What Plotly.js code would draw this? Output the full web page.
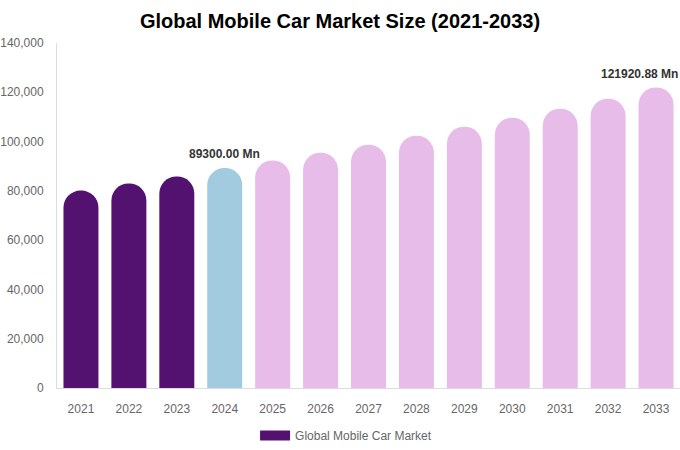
<!DOCTYPE html>
<html>
<head>
<meta charset="utf-8">
<script src="https://cdn.plot.ly/plotly-3.0.1.min.js"></script>
<style>
  html, body { margin: 0; padding: 0; background: #fff; }
  #chart { width: 680px; height: 450px; }
</style>
</head>
<body>
<div id="chart"></div>
<script>
// values (USD Mn)
var years = ["2021", "2022", "2023", "2024", "2025", "2026", "2027", "2028", "2029", "2030", "2031", "2032", "2033"];
var marketSize = [80100, 83000, 85800, 89300, 92300, 95500, 98700, 102400, 106000, 109700, 113300, 117400, 121920.88];
var barColors = ["#541270", "#541270", "#541270", "#a3cbe0", "#e8bce8", "#e8bce8", "#e8bce8", "#e8bce8", "#e8bce8", "#e8bce8", "#e8bce8", "#e8bce8", "#e8bce8"];
var labelled = ["2024", "2033"];
var seriesName = "Global Mobile Car Market";

var data = [{
    type: "bar",
    name: seriesName,
    x: years,
    y: marketSize,
    marker: { color: barColors, cornerradius: "50%" },
    showlegend: false,
    hoverinfo: "x+y"
}, {
    // legend entry only: wide flat swatch like the original
    type: "scatter",
    mode: "lines",
    name: seriesName,
    x: [null],
    y: [null],
    line: { color: barColors[0], width: 12 },
    hoverinfo: "skip"
}];

// category axis: annotations take the index, not the label
var notes = labelled.map(function (yr) {
    var i = years.indexOf(yr);
    var v = marketSize[i];
    var last = i === years.length - 1;
    return {
        // last one is pushed in so it is not cut at the right edge
        x: last ? i + 0.5 : i, y: v, xref: "x", yref: "y",
        xanchor: last ? "right" : "center",
        text: "<b>" + v.toFixed(2) + " Mn</b>",
        showarrow: false, yanchor: "bottom", yshift: 5,
        font: { family: "Liberation Sans, Arial, sans-serif", size: 12, color: "#333" }
    };
});

var layout = {
    width: 680,
    height: 450,
    margin: { l: 57, r: 0, t: 43, b: 61 },
    paper_bgcolor: "#fff",
    plot_bgcolor: "#fff",
    font: { family: "Liberation Sans, Arial, sans-serif", color: "#666", size: 12 },
    title: {
        text: "<b>Global Mobile Car Market Size (2021-2033)</b>",
        x: 0.5, xanchor: "center", y: 0.953, yanchor: "middle",
        font: { size: 20, color: "#000" }
    },
    bargap: 0.27,
    xaxis: {
        type: "category",
        range: [-0.5, 12.5],
        showline: true, linecolor: "#ddd", linewidth: 1,
        ticks: "", showgrid: false, ticklabelstandoff: 10,
        tickfont: { size: 12, color: "#666" }
    },
    yaxis: {
        range: [0, 140000], dtick: 20000, tickformat: ",",
        showline: true, linecolor: "#ddd", linewidth: 1,
        showgrid: false, zeroline: false, ticks: "", ticklabelstandoff: 10,
        tickfont: { size: 12, color: "#666" }
    },
    showlegend: true,
    legend: {
        orientation: "h", x: 0.464, xanchor: "center", y: -0.095, yanchor: "top",
        font: { size: 12, color: "#666" }
    },
    annotations: notes
};

Plotly.newPlot("chart", data, layout, { displayModeBar: false });
</script>
</body>
</html>
